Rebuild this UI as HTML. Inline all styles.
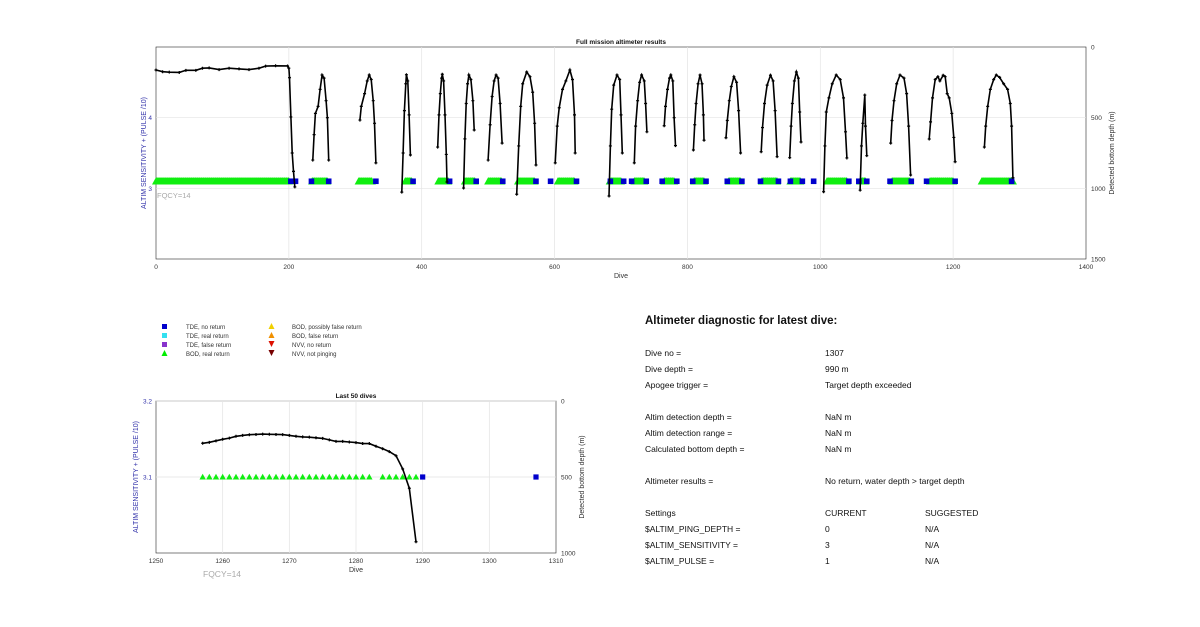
<!DOCTYPE html>
<html><head><meta charset="utf-8"><style>
body{margin:0;background:#fff;font-family:"Liberation Sans",sans-serif}
svg text{font-family:"Liberation Sans",sans-serif}
</style></head><body>
<svg id="s" width="1200" height="622" viewBox="0 0 1200 622" xmlns="http://www.w3.org/2000/svg">
<g id="top"></g>
<g id="bot"></g>
<g font-size="6" fill="#333">
 <rect x="162" y="324" width="5" height="5" fill="#0000cc"/><text x="186" y="329">TDE, no return</text>
 <rect x="162" y="333" width="5" height="5" fill="#33e0f0"/><text x="186" y="338">TDE, real return</text>
 <rect x="162" y="342" width="5" height="5" fill="#8833cc"/><text x="186" y="347">TDE, false return</text>
 <polygon points="164.5,350 161.5,356 167.5,356" fill="#00ee00"/><text x="186" y="356">BOD, real return</text>
 <polygon points="271.5,323 268.5,329 274.5,329" fill="#f0d000"/><text x="292" y="329">BOD, possibly false return</text>
 <polygon points="271.5,332 268.5,338 274.5,338" fill="#f09000"/><text x="292" y="338">BOD, false return</text>
 <polygon points="271.5,347 268.5,341 274.5,341" fill="#dd1100"/><text x="292" y="347">NVV, no return</text>
 <polygon points="271.5,356 268.5,350 274.5,350" fill="#770000"/><text x="292" y="356">NVV, not pinging</text>
</g>
<g font-size="8.5" fill="#111">
 <text x="645" y="324" font-size="11.5" font-weight="bold">Altimeter diagnostic for latest dive:</text>
 <text x="645" y="356">Dive no =</text><text x="825" y="356">1307</text>
 <text x="645" y="372">Dive depth =</text><text x="825" y="372">990 m</text>
 <text x="645" y="388">Apogee trigger =</text><text x="825" y="388">Target depth exceeded</text>
 <text x="645" y="420">Altim detection depth =</text><text x="825" y="420">NaN m</text>
 <text x="645" y="436">Altim detection range =</text><text x="825" y="436">NaN m</text>
 <text x="645" y="452">Calculated bottom depth =</text><text x="825" y="452">NaN m</text>
 <text x="645" y="484">Altimeter results =</text><text x="825" y="484">No return, water depth &gt; target depth</text>
 <text x="645" y="516">Settings</text><text x="825" y="516">CURRENT</text><text x="925" y="516">SUGGESTED</text>
 <text x="645" y="532">$ALTIM_PING_DEPTH =</text><text x="825" y="532">0</text><text x="925" y="532">N/A</text>
 <text x="645" y="548">$ALTIM_SENSITIVITY =</text><text x="825" y="548">3</text><text x="925" y="548">N/A</text>
 <text x="645" y="564">$ALTIM_PULSE =</text><text x="825" y="564">1</text><text x="925" y="564">N/A</text>
</g>
</svg>
<script>
// ---- Top chart data ----
const topXTicks=[0,200,400,600,800,1000,1200,1400];
const topLeftTicks=[3,4];
const topRightTicks=[0,500,1000,1500];
const depthSegments=[
 [[0,163],[10,175],[20,178],[35,180],[45,165],[60,165],[70,150],[80,148],[95,160],[110,150],[125,155],[140,160],[155,150],[165,135],[180,133],[198,134],[200,150],[201,217],[203,495],[205,750],[207,880],[209,990]],
 [[236,800],[238,620],[240,470],[244,420],[247,300],[250,198],[253,220],[256,380],[258,500],[260,800]],
 [[307,517],[309,420],[314,330],[318,240],[321,198],[324,230],[327,380],[329,540],[331,820]],
 [[370,1027],[372,750],[374,450],[376,260],[377,196],[379,240],[381,480],[383,764]],
 [[424,708],[426,480],[428,330],[430,220],[431,193],[433,240],[435,480],[437,760],[438,955]],
 [[463,998],[465,650],[467,400],[469,260],[471,198],[474,230],[477,380],[479,587]],
 [[500,800],[503,550],[506,350],[509,240],[512,198],[515,220],[518,400],[521,680]],
 [[543,1042],[546,700],[549,420],[552,260],[558,177],[563,210],[567,320],[570,540],[572,835]],
 [[601,820],[604,560],[607,430],[612,300],[617,240],[623,163],[627,230],[630,480],[631,750]],
 [[682,1054],[684,700],[686,440],[689,270],[694,198],[698,230],[700,480],[702,750]],
 [[720,820],[722,560],[725,380],[728,250],[731,198],[735,240],[737,400],[739,600]],
 [[765,557],[767,420],[770,300],[773,220],[775,198],[778,240],[780,500],[782,698]],
 [[809,729],[811,550],[813,400],[816,260],[819,198],[822,260],[824,480],[825,660]],
 [[858,642],[860,520],[863,380],[866,280],[870,210],[874,250],[877,450],[880,750]],
 [[911,741],[913,570],[916,400],[920,270],[925,200],[929,240],[932,450],[935,776]],
 [[954,783],[956,560],[958,400],[961,240],[964,177],[967,220],[969,460],[971,672]],
 [[1005,1024],[1007,700],[1009,460],[1013,360],[1018,260],[1024,198],[1030,230],[1035,360],[1038,600],[1040,785]],
 [[1060,1013],[1062,700],[1064,540],[1067,340],[1068,560],[1070,769]],
 [[1106,680],[1108,520],[1111,380],[1115,260],[1120,198],[1126,220],[1130,330],[1133,560],[1136,906]],
 [[1164,651],[1166,530],[1169,360],[1173,230],[1177,210],[1180,240],[1185,200],[1188,210],[1191,330],[1194,360],[1198,470],[1201,640],[1203,812]],
 [[1247,708],[1249,560],[1252,420],[1256,300],[1261,230],[1265,198],[1270,215],[1276,260],[1282,300],[1286,400],[1288,560],[1290,925]]
];
const greenRanges=[[0,200],[235,258],[305,325],[375,385],[425,440],[465,480],[500,520],[545,570],[605,630],[683,700],[720,735],[765,780],[810,825],[862,880],[912,935],[955,970],[1010,1040],[1060,1068],[1108,1135],[1165,1200],[1243,1290]];
const blueDives=[203,210,234,260,331,387,442,482,522,572,594,633,684,704,716,738,762,784,808,828,860,882,910,937,955,973,990,1043,1058,1070,1105,1137,1160,1203,1288];
const statusValue=3.1;
// ---- Bottom chart data ----
const botXTicks=[1250,1260,1270,1280,1290,1300,1310];
const botLeftTicks=[3.1,3.2];
const botRightTicks=[0,500,1000];
const botDives=[1257,1258,1259,1260,1261,1262,1263,1264,1265,1266,1267,1268,1269,1270,1271,1272,1273,1274,1275,1276,1277,1278,1279,1280,1281,1282,1283,1284,1285,1286,1287,1288,1289];
const botDepths=[278,272,262,252,244,232,226,222,220,218,219,220,221,226,232,236,238,242,246,256,266,266,270,274,280,280,298,314,333,360,447,574,926];
const botTriDives=[1257,1258,1259,1260,1261,1262,1263,1264,1265,1266,1267,1268,1269,1270,1271,1272,1273,1274,1275,1276,1277,1278,1279,1280,1281,1282,1284,1285,1286,1287,1288,1289];
const botSquareDives=[1290,1307];

const NS="http://www.w3.org/2000/svg";
function mk(p,tag,a){const e=document.createElementNS(NS,tag);for(const k in a)e.setAttribute(k,a[k]);p.appendChild(e);return e;}
function tx(p,x,y,s,a){const e=mk(p,'text',Object.assign({x:x,y:y},a||{}));e.textContent=s;return e;}

function chart(g,o){
 const X=v=>o.x0+(v-o.xmin)/(o.xmax-o.xmin)*(o.x1-o.x0);
 const YL=v=>o.y1-(v-o.lmin)/(o.lmax-o.lmin)*(o.y1-o.y0);
 const YR=v=>o.y0+(v-o.rmin)/(o.rmax-o.rmin)*(o.y1-o.y0);
 mk(g,'rect',{x:o.x0,y:o.y0,width:o.x1-o.x0,height:o.y1-o.y0,fill:'#fff',stroke:'#262626','stroke-width':0.6});
 o.xt.forEach(v=>{if(v>o.xmin&&v<o.xmax){const l=mk(g,'line',{x1:X(v),x2:X(v),y1:o.y0,y2:o.y1,stroke:'#e3e3e3','stroke-width':0.7});}
  const t=tx(g,X(v),o.y1+10,v,{'font-size':6.5,'text-anchor':'middle',fill:'#333'});});
 o.lt.forEach(v=>{const l=mk(g,'line',{x1:o.x0,x2:o.x1,y1:YL(v),y2:YL(v),stroke:'#e3e3e3','stroke-width':0.7});
  const t=tx(g,o.x0-4,YL(v)+2.5,v,{'font-size':6.5,'text-anchor':'end',fill:'#3333aa'});});
 o.rt.forEach(v=>{const t=tx(g,o.x1+5,YR(v)+2.5,v,{'font-size':6.5,fill:'#333'});});
 const ti=tx(g,(o.x0+o.x1)/2,o.y0-3,o.title,{'font-size':6.5,'font-weight':'bold','text-anchor':'middle',fill:'#111'});
 const xl=tx(g,(o.x0+o.x1)/2,o.y1+19,'Dive',{'font-size':7,'text-anchor':'middle',fill:'#333'});
 const ly=(o.y0+o.y1)/2;
 const yl=tx(g,o.lx,ly,'ALTIM SENSITIVITY + (PULSE /10)',{'font-size':7,'text-anchor':'middle',fill:'#3333aa',transform:`rotate(-90 ${o.lx} ${ly})`});
 const yr=tx(g,o.rx,ly,'Detected bottom depth (m)',{'font-size':7,'text-anchor':'middle',fill:'#333',transform:`rotate(-90 ${o.rx} ${ly})`});
 const fq=tx(g,o.fx,o.fy,'FQCY=14',{'font-size':o.fs,fill:'#aaa'});
 return {X,YL,YR};
}
function tri(g,x,y,s){const p=mk(g,'polygon',{points:`${x},${y-s} ${x-s},${y+s*0.8} ${x+s},${y+s*0.8}`,fill:'#11ee11'});}
function sq(g,x,y,s){const r=mk(g,'rect',{x:x-s,y:y-s,width:2*s,height:2*s,fill:'#0000cc'});}
function line(g,pts,X,Y,ms){
 const d=pts.map((p,i)=>(i?'L':'M')+X(p[0]).toFixed(1)+','+Y(p[1]).toFixed(1)).join('');
 const l=mk(g,'path',{d:d,fill:'none',stroke:'#000','stroke-width':1.6});
 pts.forEach(p=>{const c=mk(g,'path',{d:`M${X(p[0])-ms},${Y(p[1])}h${2*ms}M${X(p[0])},${Y(p[1])-ms}v${2*ms}`,stroke:'#000','stroke-width':1.2});});
}
// top
const T=document.getElementById('top');
const ta=chart(T,{x0:156,x1:1086,y0:47,y1:259,xmin:0,xmax:1400,lmin:2,lmax:5,rmin:0,rmax:1500,xt:topXTicks,lt:topLeftTicks,rt:topRightTicks,title:'Full mission altimeter results',lx:146,rx:1114,fx:157,fy:198,fs:7.5});
greenRanges.forEach(r=>{for(let d=r[0];d<=r[1];d++)tri(T,ta.X(d),ta.YL(statusValue),4);});
blueDives.forEach(d=>sq(T,ta.X(d),ta.YL(statusValue),2.8));
depthSegments.forEach(seg=>line(T,seg,ta.X,ta.YR,1.5));
// bottom
const B=document.getElementById('bot');
const ba=chart(B,{x0:156,x1:556,y0:401,y1:553,xmin:1250,xmax:1310,lmin:3.0,lmax:3.2,rmin:0,rmax:1000,xt:botXTicks,lt:botLeftTicks,rt:botRightTicks,title:'Last 50 dives',lx:138,rx:584,fx:203,fy:577,fs:8.5});
botTriDives.forEach(d=>tri(B,ba.X(d),ba.YL(3.1),3.2));
botSquareDives.forEach(d=>sq(B,ba.X(d),ba.YL(3.1),2.6));
line(B,botDives.map((d,i)=>[d,botDepths[i]]),ba.X,ba.YR,1.5);
</script>
</body></html>
